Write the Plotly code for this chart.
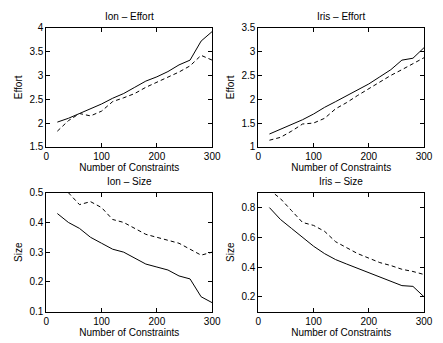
import plotly.graph_objects as go
from plotly.subplots import make_subplots

constraints = [20, 40, 60, 80, 100, 120, 140, 160, 180, 200, 220, 240, 260, 280, 300]

ion_effort_solid = [2.02, 2.10, 2.20, 2.30, 2.40, 2.52, 2.62, 2.75, 2.88, 2.97, 3.08, 3.22, 3.32, 3.72, 3.92]
ion_effort_dash = [1.83, 2.05, 2.20, 2.15, 2.25, 2.45, 2.53, 2.62, 2.75, 2.86, 2.97, 3.07, 3.20, 3.42, 3.32]

iris_effort_solid = [1.27, 1.37, 1.46, 1.57, 1.69, 1.83, 1.95, 2.07, 2.20, 2.32, 2.47, 2.62, 2.82, 2.86, 3.08]
iris_effort_dash = [1.14, 1.20, 1.33, 1.48, 1.50, 1.60, 1.80, 1.93, 2.08, 2.22, 2.35, 2.50, 2.62, 2.75, 2.87]

ion_size_solid = [0.43, 0.40, 0.38, 0.35, 0.33, 0.31, 0.30, 0.28, 0.26, 0.25, 0.24, 0.22, 0.21, 0.15, 0.13]
ion_size_dash = [0.53, 0.50, 0.46, 0.47, 0.45, 0.41, 0.40, 0.38, 0.36, 0.35, 0.34, 0.33, 0.31, 0.29, 0.30]

iris_size_solid = [0.80, 0.72, 0.66, 0.60, 0.54, 0.49, 0.45, 0.42, 0.39, 0.36, 0.335, 0.305, 0.275, 0.27, 0.20]
iris_size_dash = [0.92, 0.86, 0.78, 0.70, 0.68, 0.64, 0.57, 0.53, 0.49, 0.46, 0.43, 0.41, 0.385, 0.37, 0.35]

titles = ["Ion \u2013 Effort", "Iris \u2013 Effort", "Ion \u2013 Size", "Iris \u2013 Size"]
ylabels = ["Effort", "Effort", "Size", "Size"]
yranges = [[1.5, 4], [1, 3.5], [0.1, 0.5], [0.1, 0.9]]
ydticks = [0.5, 0.5, 0.1, 0.2]
ytick0 = [1.5, 1, 0.1, 0.2]
series = [(ion_effort_solid, ion_effort_dash), (iris_effort_solid, iris_effort_dash),
          (ion_size_solid, ion_size_dash), (iris_size_solid, iris_size_dash)]

W, H = 443, 343
xdoms = [[44.5 / W, 215 / W], [262.5 / W, 432.7 / W]]
ydoms = [[1 - 146 / H, 1 - 22.5 / H], [1 - 316.7 / H, 1 - 193.5 / H]]

fig = go.Figure()
font = dict(family="Liberation Sans, Arial, sans-serif", size=10, color="black")

for i in range(4):
    r, c = divmod(i, 2)
    xa = "x" if i == 0 else f"x{i+1}"
    ya = "y" if i == 0 else f"y{i+1}"
    s, d = series[i]
    fig.add_trace(go.Scatter(x=constraints, y=s, mode="lines", xaxis=xa, yaxis=ya,
                             line=dict(color="black", width=1), showlegend=False))
    fig.add_trace(go.Scatter(x=constraints, y=d, mode="lines", xaxis=xa, yaxis=ya,
                             line=dict(color="black", width=1, dash="4px,3px"), showlegend=False))
    axkey_x = "xaxis" if i == 0 else f"xaxis{i+1}"
    axkey_y = "yaxis" if i == 0 else f"yaxis{i+1}"
    fig.layout[axkey_x] = dict(
        domain=xdoms[c], anchor=ya, range=[0, 300], tick0=0, dtick=100,
        ticks="inside", ticklen=4, tickwidth=1, tickcolor="black",
        showline=True, linecolor="black", linewidth=1, mirror="ticks",
        showgrid=False, zeroline=False, tickfont=font,
        title=dict(text="Number of Constraints", font=font, standoff=1),
    )
    fig.layout[axkey_y] = dict(
        domain=ydoms[r], anchor=xa, range=yranges[i], tick0=ytick0[i], dtick=ydticks[i],
        ticks="inside", ticklen=4, tickwidth=1, tickcolor="black",
        showline=True, linecolor="black", linewidth=1, mirror="ticks",
        showgrid=False, zeroline=False, tickfont=font,
        title=dict(text=ylabels[i], font=font, standoff=4),
    )
    fig.add_annotation(text=titles[i], x=(xdoms[c][0] + xdoms[c][1]) / 2,
                       y=ydoms[r][1], xref="paper", yref="paper",
                       xanchor="center", yanchor="bottom", yshift=4,
                       showarrow=False, font=font)

fig.update_layout(width=W, height=H, margin=dict(l=0, r=0, t=0, b=0),
                  plot_bgcolor="white", paper_bgcolor="white", font=font)
fig.write_html("out.html")
